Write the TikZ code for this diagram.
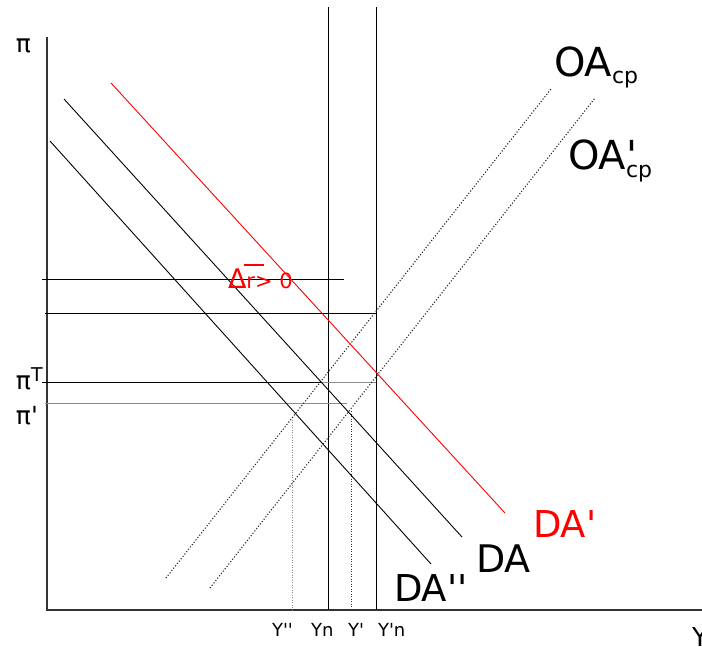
\documentclass[tikz,border=0pt]{standalone}
\usepackage{fontspec}
\setmainfont{DejaVu Sans}[Ligatures=TeXOff]
\newcommand{\fs}[1]{\fontsize{#1}{#1}\selectfont}
\newcommand{\pr}{\symbol{"0027}}
\begin{document}
\begin{tikzpicture}[x=1pt,y=-1pt,
  lbl/.style={anchor=base west,inner sep=0pt,outer sep=0pt},
  axisline/.style={line width=1.2pt,black!80},
  thin/.style={line width=0.9pt,black},
  oaline/.style={line width=1.1pt,black!85,dash pattern=on 1.1pt off 1.9pt},
  guide/.style={line width=0.9pt,black!45}]
\useasboundingbox[fill=white] (0,0) rectangle (702,646);
% axes
\coordinate (O) at (47,610);
\coordinate (ytop) at (47,37);
\coordinate (xend) at (702,610);
\draw[axisline] (ytop) -- (O) -- (xend);
% vertical lines Yn and Y'n
\coordinate (yn0) at (328,7); \coordinate (yn1) at (328,610);
\coordinate (ypn0) at (376,7); \coordinate (ypn1) at (376,610);
\draw[thin] (yn0) -- (yn1);
\draw[thin] (ypn0) -- (ypn1);
% horizontal lines
\coordinate (h1a) at (42,279); \coordinate (h1b) at (344,279);
\coordinate (h2a) at (45,313); \coordinate (h2b) at (376,313);
\coordinate (h3a) at (42,382); \coordinate (h3m) at (322,382); \coordinate (h3b) at (376,382);
\coordinate (h4a) at (45,403); \coordinate (h4b) at (347,403);
\draw[thin] (h1a) -- (h1b);
\draw[thin] (h2a) -- (h2b);
\draw[thin] (h3a) -- (h3m);
\draw[guide] (h3m) -- (h3b);
\draw[guide] (h4a) -- (h4b);
% dotted verticals
\coordinate (ypp0) at (292,417); \coordinate (ypp1) at (292,610);
\coordinate (yp0) at (351,411); \coordinate (yp1) at (351,610);
\draw[line width=1pt,black!45,dash pattern=on 1pt off 1.5pt] (ypp0) -- (ypp1);
\draw[line width=1pt,black!80,dash pattern=on 1pt off 1.5pt] (yp0) -- (yp1);
% OA curves
\coordinate (oa0) at (166,578); \coordinate (oa1) at (551,89);
\coordinate (oap0) at (210,588); \coordinate (oap1) at (595,98);
\draw[oaline] (oa0) -- (oa1);
\draw[oaline] (oap0) -- (oap1);
% DA curves
\coordinate (da0) at (64,99); \coordinate (da1) at (462,537);
\coordinate (dapp0) at (50,141); \coordinate (dapp1) at (431,564);
\coordinate (dap0) at (111,83); \coordinate (dap1) at (505,513);
\draw[thin] (da0) -- (da1);
\draw[thin] (dapp0) -- (dapp1);
\draw[line width=0.9pt,red] (dap0) -- (dap1);
% labels
\node[lbl] (pi) at (16,52) {\fs{25}π};
\node[lbl] (piT) at (16,389) {\fs{25}π\raisebox{8pt}{\fs{19}T}};
\node[lbl] (pip) at (16,424) {\fs{25}π\pr};
\node[lbl] (lYpp) at (272,636) {\fs{18}Y\pr\pr};
\node[lbl] (lYn) at (311,636) {\fs{18}Yn};
\node[lbl] (lYp) at (348,636) {\fs{18}Y\pr};
\node[lbl] (lYpn) at (378,636) {\fs{18}Y\pr n};
\node[lbl] (lY) at (692,646) {\fs{26}Y};
\node[lbl] (lOA) at (554,76) {\fs{40}OA\raisebox{-7pt}{\fs{22}cp}};
\node[lbl] (lOAp) at (568,169) {\fs{40}OA\rlap{\pr}\raisebox{-8pt}{\fs{22}cp}};
\node[lbl,text=red] (lDAp) at (533,537) {\fs{37}DA\pr};
\node[lbl] (lDA) at (476,572) {\fs{38}DA};
\node[lbl] (lDApp) at (394,601) {\fs{37}DA\pr\pr};
\node[lbl,text=red] (ldr) at (228,288) {\fs{27}Δ\fs{21}r> 0};
\coordinate (bar0) at (244,265); \coordinate (bar1) at (264,265);
\draw[red,line width=2pt] (bar0) -- (bar1);
\end{tikzpicture}
\end{document}
